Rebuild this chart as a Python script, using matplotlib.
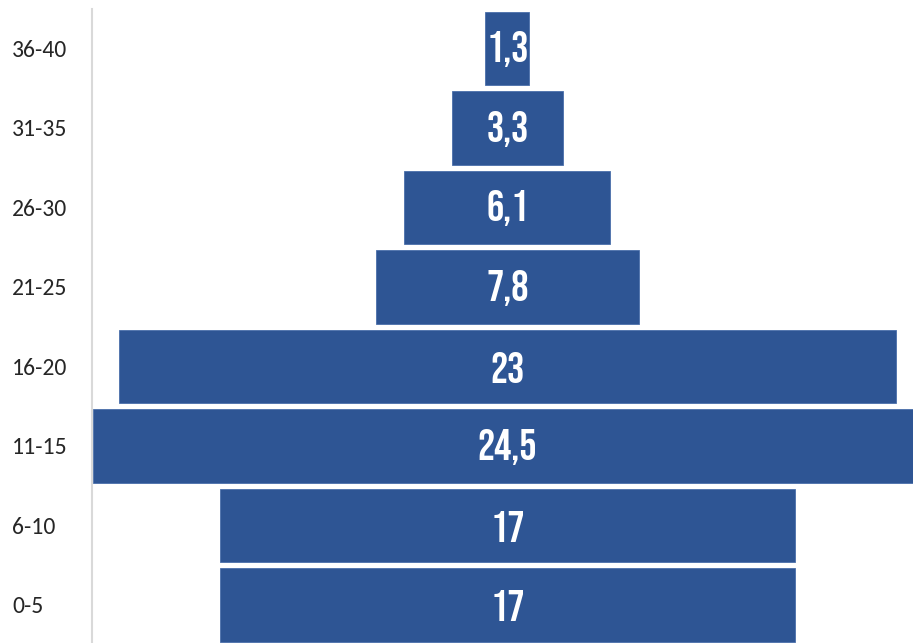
"""Centered horizontal bars by age group (pyramid style)."""

import matplotlib
matplotlib.use("Agg")
import matplotlib.pyplot as plt
from matplotlib import font_manager

# data, bottom to top
groups = ["0-5", "6-10", "11-15", "16-20", "21-25", "26-30", "31-35", "36-40"]
values = [17, 17, 24.5, 23, 7.8, 6.1, 3.3, 1.3]
value_labels = ["17", "17", "24,5", "23", "7,8", "6,1", "3,3", "1,3"]

BLUE = "#2E5594"


def pick_font(names):
    installed = {f.name for f in font_manager.fontManager.ttflist}
    for n in names:
        if n in installed:
            return n
    return "DejaVu Sans"


def main():
    label_font = pick_font(["Bebas Neue", "Oswald", "Fjalla One",
                            "Roboto Condensed", "Barlow Condensed"])
    tick_font = pick_font(["Carlito", "Open Sans", "Liberation Sans"])

    fig = plt.figure(figsize=(9.13, 6.43), dpi=100)
    ax = fig.add_axes([92 / 913, 0, 821 / 913, 1])

    ypos = list(range(len(groups)))
    lefts = [-v / 2 for v in values]
    ax.barh(ypos, values, left=lefts, height=0.93, color=BLUE,
            edgecolor="#4A6FAA", linewidth=0.6)

    for y, lab in zip(ypos, value_labels):
        ax.text(0.0, y - 0.01, lab, ha="center", va="center", color="white",
                fontsize=31, fontweight="bold", family=label_font)

    ax.set_xlim(-12.29, 12.0)
    ax.set_ylim(-0.478, 7.61)

    # category labels, left aligned near the figure edge
    ax.set_yticks(ypos)
    ax.set_yticklabels(groups, fontsize=17, family=tick_font, color="#262626")
    for t in ax.get_yticklabels():
        t.set_horizontalalignment("left")
    ax.tick_params(axis="y", length=0, pad=57.5)
    ax.set_xticks([])

    for s in ("top", "right", "bottom"):
        ax.spines[s].set_visible(False)
    ax.spines["left"].set_color("#D9D9D9")
    ax.spines["left"].set_linewidth(1.5)
    ax.spines["left"].set_bounds(-0.478, 7.497)

    fig.savefig("out.png", dpi=100)


if __name__ == "__main__":
    main()
